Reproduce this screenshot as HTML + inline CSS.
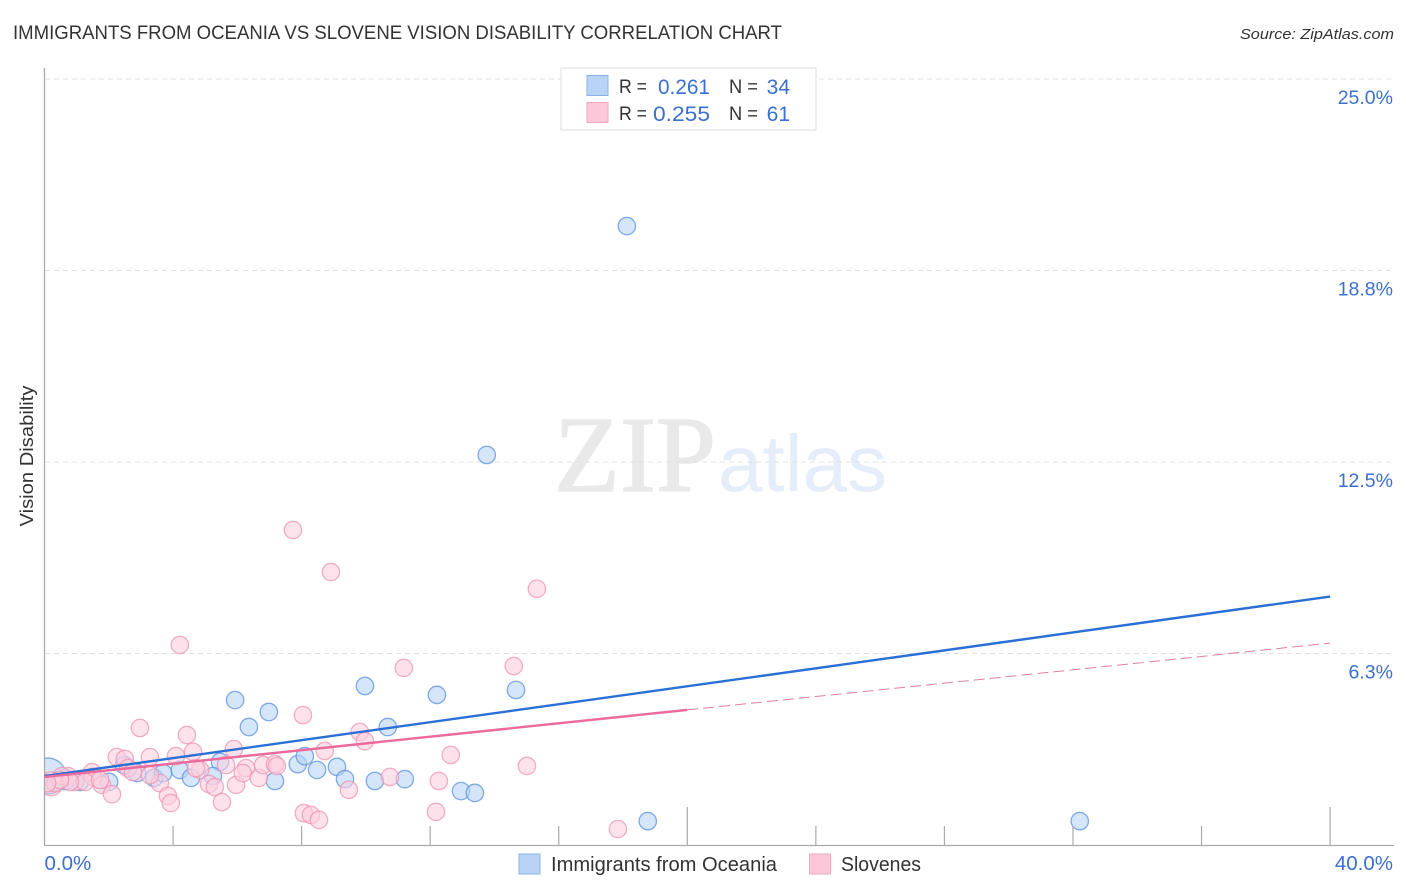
<!DOCTYPE html>
<html lang="en">
<head>
<meta charset="utf-8">
<title>Immigrants from Oceania vs Slovene Vision Disability Correlation Chart</title>
<style>
html,body{margin:0;padding:0;background:#fff;}
svg{display:block;}
text{font-family:"Liberation Sans",sans-serif;}
</style>
</head>
<body>
<svg id="chart" xmlns="http://www.w3.org/2000/svg" width="1406" height="892" viewBox="0 0 1406 892">
  <text x="554" y="491" textLength="162" lengthAdjust="spacingAndGlyphs" style="font-family:'Liberation Serif',serif;font-size:108px;fill:#e9e9e9;stroke:#e9e9e9;stroke-width:1.5;">ZIP</text>
  <text x="718" y="491" textLength="169" lengthAdjust="spacingAndGlyphs" style="font-size:80px;fill:#e5edfa;">atlas</text>
  <g id="grid"></g>
  <g id="points-blue"></g>
  <g id="points-pink"></g>
  <rect x="0" y="740" width="44" height="70" fill="#fff"/>
  <g id="axes"></g>
  <g id="trends"></g>
  <g id="labels"></g>

  <text x="13" y="39" textLength="769" lengthAdjust="spacingAndGlyphs" style="font-size:19px;fill:#333;">IMMIGRANTS FROM OCEANIA VS SLOVENE VISION DISABILITY CORRELATION CHART</text>
  <text x="1394" y="39" text-anchor="end" textLength="154" lengthAdjust="spacingAndGlyphs" style="font-size:15px;font-style:italic;fill:#333;">Source: ZipAtlas.com</text>
  <text transform="translate(33,456) rotate(-90)" text-anchor="middle" textLength="141" lengthAdjust="spacingAndGlyphs" style="font-size:18px;fill:#333;">Vision Disability</text>

  <g>
    <rect x="561" y="68" width="255" height="62" fill="#fff" stroke="#dddddd" stroke-width="1"/>
    <rect x="587" y="75.5" width="21" height="20" fill="#b9d3f7" stroke="#8ab0e8" stroke-width="1"/>
    <rect x="587" y="102.5" width="21" height="20" fill="#fcc8d9" stroke="#f2a8c0" stroke-width="1"/>
    <text x="619" y="93" textLength="28" lengthAdjust="spacingAndGlyphs" style="font-size:19px;fill:#333;">R =</text>
    <text x="710" y="94" text-anchor="end" textLength="52" lengthAdjust="spacingAndGlyphs" style="font-size:21px;fill:#3b70d0;">0.261</text>
    <text x="729" y="93" textLength="29" lengthAdjust="spacingAndGlyphs" style="font-size:19px;fill:#333;">N =</text>
    <text x="790" y="94" text-anchor="end" style="font-size:21px;fill:#3b70d0;">34</text>
    <text x="619" y="120" textLength="28" lengthAdjust="spacingAndGlyphs" style="font-size:19px;fill:#333;">R =</text>
    <text x="710" y="121" text-anchor="end" textLength="57" lengthAdjust="spacingAndGlyphs" style="font-size:21px;fill:#3b70d0;">0.255</text>
    <text x="729" y="120" textLength="29" lengthAdjust="spacingAndGlyphs" style="font-size:19px;fill:#333;">N =</text>
    <text x="790" y="121" text-anchor="end" style="font-size:21px;fill:#3b70d0;">61</text>
  </g>

  <g>
    <rect x="519" y="854" width="21" height="20" fill="#b9d3f7" stroke="#8ab0e8" stroke-width="1"/>
    <text x="551" y="871" textLength="226" lengthAdjust="spacingAndGlyphs" style="font-size:20px;fill:#333;">Immigrants from Oceania</text>
    <rect x="809.5" y="854" width="21" height="20" fill="#fcc8d9" stroke="#f2a8c0" stroke-width="1"/>
    <text x="841" y="871" textLength="80" lengthAdjust="spacingAndGlyphs" style="font-size:20px;fill:#333;">Slovenes</text>
  </g>
</svg>
<script>
const xTickValues = [4, 8, 12, 16, 20, 24, 28, 32, 36, 40];
const xMajorTicks = [20, 40];
const xTickLabels = ["0.0%", "40.0%"];
const yTickValues = [25, 18.75, 12.5, 6.25];
const yTickLabels = ["25.0%", "18.8%", "12.5%", "6.3%"];

const blueX = [18.12,13.76,5.93,6.98,6.36,5.46,2.47,2.88,3.41,3.69,4.21,4.56,5.24,7.88,8.10,8.48,9.10,9.35,2.01,1.10,0.64,0.39,9.97,12.21,14.67,10.68,10.28,11.21,12.96,13.39,18.77,32.21,7.17];
const blueY = [20.20,12.73,4.73,4.34,3.85,2.71,2.61,2.35,2.19,2.35,2.45,2.19,2.25,2.64,2.90,2.45,2.55,2.15,2.06,2.06,2.09,2.06,5.19,4.90,5.06,3.85,2.09,2.15,1.76,1.70,0.78,0.78,2.09];
const blueClusterX = [0.11];
const blueClusterY = [2.25];

const pinkX = [4.21,2.97,4.43,8.04,7.73,8.91,15.32,11.18,14.60,2.25,2.50,2.60,3.28,4.09,4.62,5.89,8.72,1.48,1.51,0.73,0.54,0.33,0.95,1.26,1.79,2.10,3.59,3.84,3.93,4.84,5.12,5.30,5.52,5.65,5.96,6.27,6.17,6.67,6.80,7.17,7.23,8.07,8.29,8.54,2.75,3.28,9.81,9.97,12.64,15.01,10.75,12.27,9.47,12.18,17.84,4.71,1.73,0.79,0.48,0.08];
const pinkY = [6.53,3.82,3.59,4.24,10.28,8.91,8.36,5.78,5.84,2.87,2.81,2.51,2.87,2.90,3.04,3.13,3.07,2.38,2.22,2.25,2.25,2.02,2.06,2.06,1.96,1.66,2.02,1.60,1.37,2.45,1.99,1.89,1.40,2.61,1.96,2.51,2.35,2.19,2.61,2.64,2.58,1.04,0.98,0.82,2.38,2.28,3.69,3.39,2.94,2.58,2.22,2.09,1.80,1.08,0.52,2.51,2.12,2.06,2.12,2.02];
const pinkClusterX = [0.2];
const pinkClusterY = [2.0];

const blueTrendX = [0, 40];
const blueTrendY = [2.25, 8.11];
const pinkTrendX = [0, 20];
const pinkTrendY = [2.22, 4.41];
const pinkForecastX = [20, 40];
const pinkForecastY = [4.41, 6.59];

const SVGNS = "http://www.w3.org/2000/svg";
const xOf = v => 44.5 + v * 32.14;
const yOf = v => 845 - v * 30.64;

function make(tag, attrs, parent) {
  const el = document.createElementNS(SVGNS, tag);
  for (const k in attrs) el.setAttribute(k, attrs[k]);
  parent.appendChild(el);
  return el;
}

const gridG = document.getElementById("grid");
yTickValues.forEach(v => {
  const el = make("line", {x1: 45, x2: 1394, y1: yOf(v), y2: yOf(v), stroke: "#e0e0e0", "stroke-width": 1, "stroke-dasharray": "5 4"}, gridG);
  
  
});

const axesG = document.getElementById("axes");
const yAxisLine = make("line", {x1: 44.5, x2: 44.5, y1: 68, y2: 845.5, stroke: "#aaaaaa", "stroke-width": 1.3}, axesG);


const xAxisLine = make("line", {x1: 44, x2: 1394, y1: 845.5, y2: 845.5, stroke: "#aaaaaa", "stroke-width": 1.3}, axesG);


xTickValues.forEach(v => {
  const top = xMajorTicks.includes(v) ? 807 : 826;
  const el = make("line", {x1: xOf(v), x2: xOf(v), y1: top, y2: 845, stroke: "#aaaaaa", "stroke-width": 1.2}, axesG);
  
  
});

function drawPoints(groupId, xs, ys, r, fill, stroke, name) {
  const g = document.getElementById(groupId);
  xs.forEach((x, i) => {
    const el = make("circle", {cx: xOf(x), cy: yOf(ys[i]), r: r, fill: fill, "fill-opacity": 0.6, stroke: stroke, "stroke-opacity": 0.7, "stroke-width": 1.3}, g);
    
    
  });
}

drawPoints("points-blue", blueClusterX, blueClusterY, 18, "#b9d3f7", "#4f8adb", "blue-cluster-point");
drawPoints("points-blue", blueX, blueY, 8.7, "#b9d3f7", "#4f8adb", "blue-point");
drawPoints("points-pink", pinkClusterX, pinkClusterY, 12, "#fbcfdd", "#ec8fae", "pink-cluster-point");
drawPoints("points-pink", pinkX, pinkY, 8.7, "#fbcfdd", "#ec8fae", "pink-point");

const trendsG = document.getElementById("trends");
const blueLine = make("line", {x1: xOf(blueTrendX[0]), y1: yOf(blueTrendY[0]), x2: xOf(blueTrendX[1]), y2: yOf(blueTrendY[1]), stroke: "#2a6fd6", "stroke-width": 2.4}, trendsG);


const pinkLine = make("line", {x1: xOf(pinkTrendX[0]), y1: yOf(pinkTrendY[0]), x2: xOf(pinkTrendX[1]), y2: yOf(pinkTrendY[1]), stroke: "#ec6a9c", "stroke-width": 2.4}, trendsG);


const pinkDash = make("line", {x1: xOf(pinkForecastX[0]), y1: yOf(pinkForecastY[0]), x2: xOf(pinkForecastX[1]), y2: yOf(pinkForecastY[1]), stroke: "#e07fa2", "stroke-width": 1, "stroke-dasharray": "11 5"}, trendsG);



const labelsG = document.getElementById("labels");
const yLabelStyle = "font-size:19.5px;fill:#3b70d0;";
const xLabelStyle = "font-size:20.5px;fill:#3b70d0;";
yTickValues.forEach((v, i) => {
  const el = make("text", {x: 1393, y: yOf(v) + 25, "text-anchor": "end", style: yLabelStyle}, labelsG);
  el.textContent = yTickLabels[i];
  
  
});
const xLabelStart = make("text", {x: xOf(0), y: 870, style: xLabelStyle}, labelsG);
xLabelStart.textContent = xTickLabels[0];


const xLabelEnd = make("text", {x: 1393, y: 870, "text-anchor": "end", style: xLabelStyle}, labelsG);
xLabelEnd.textContent = xTickLabels[1];


</script>
</body>
</html>
